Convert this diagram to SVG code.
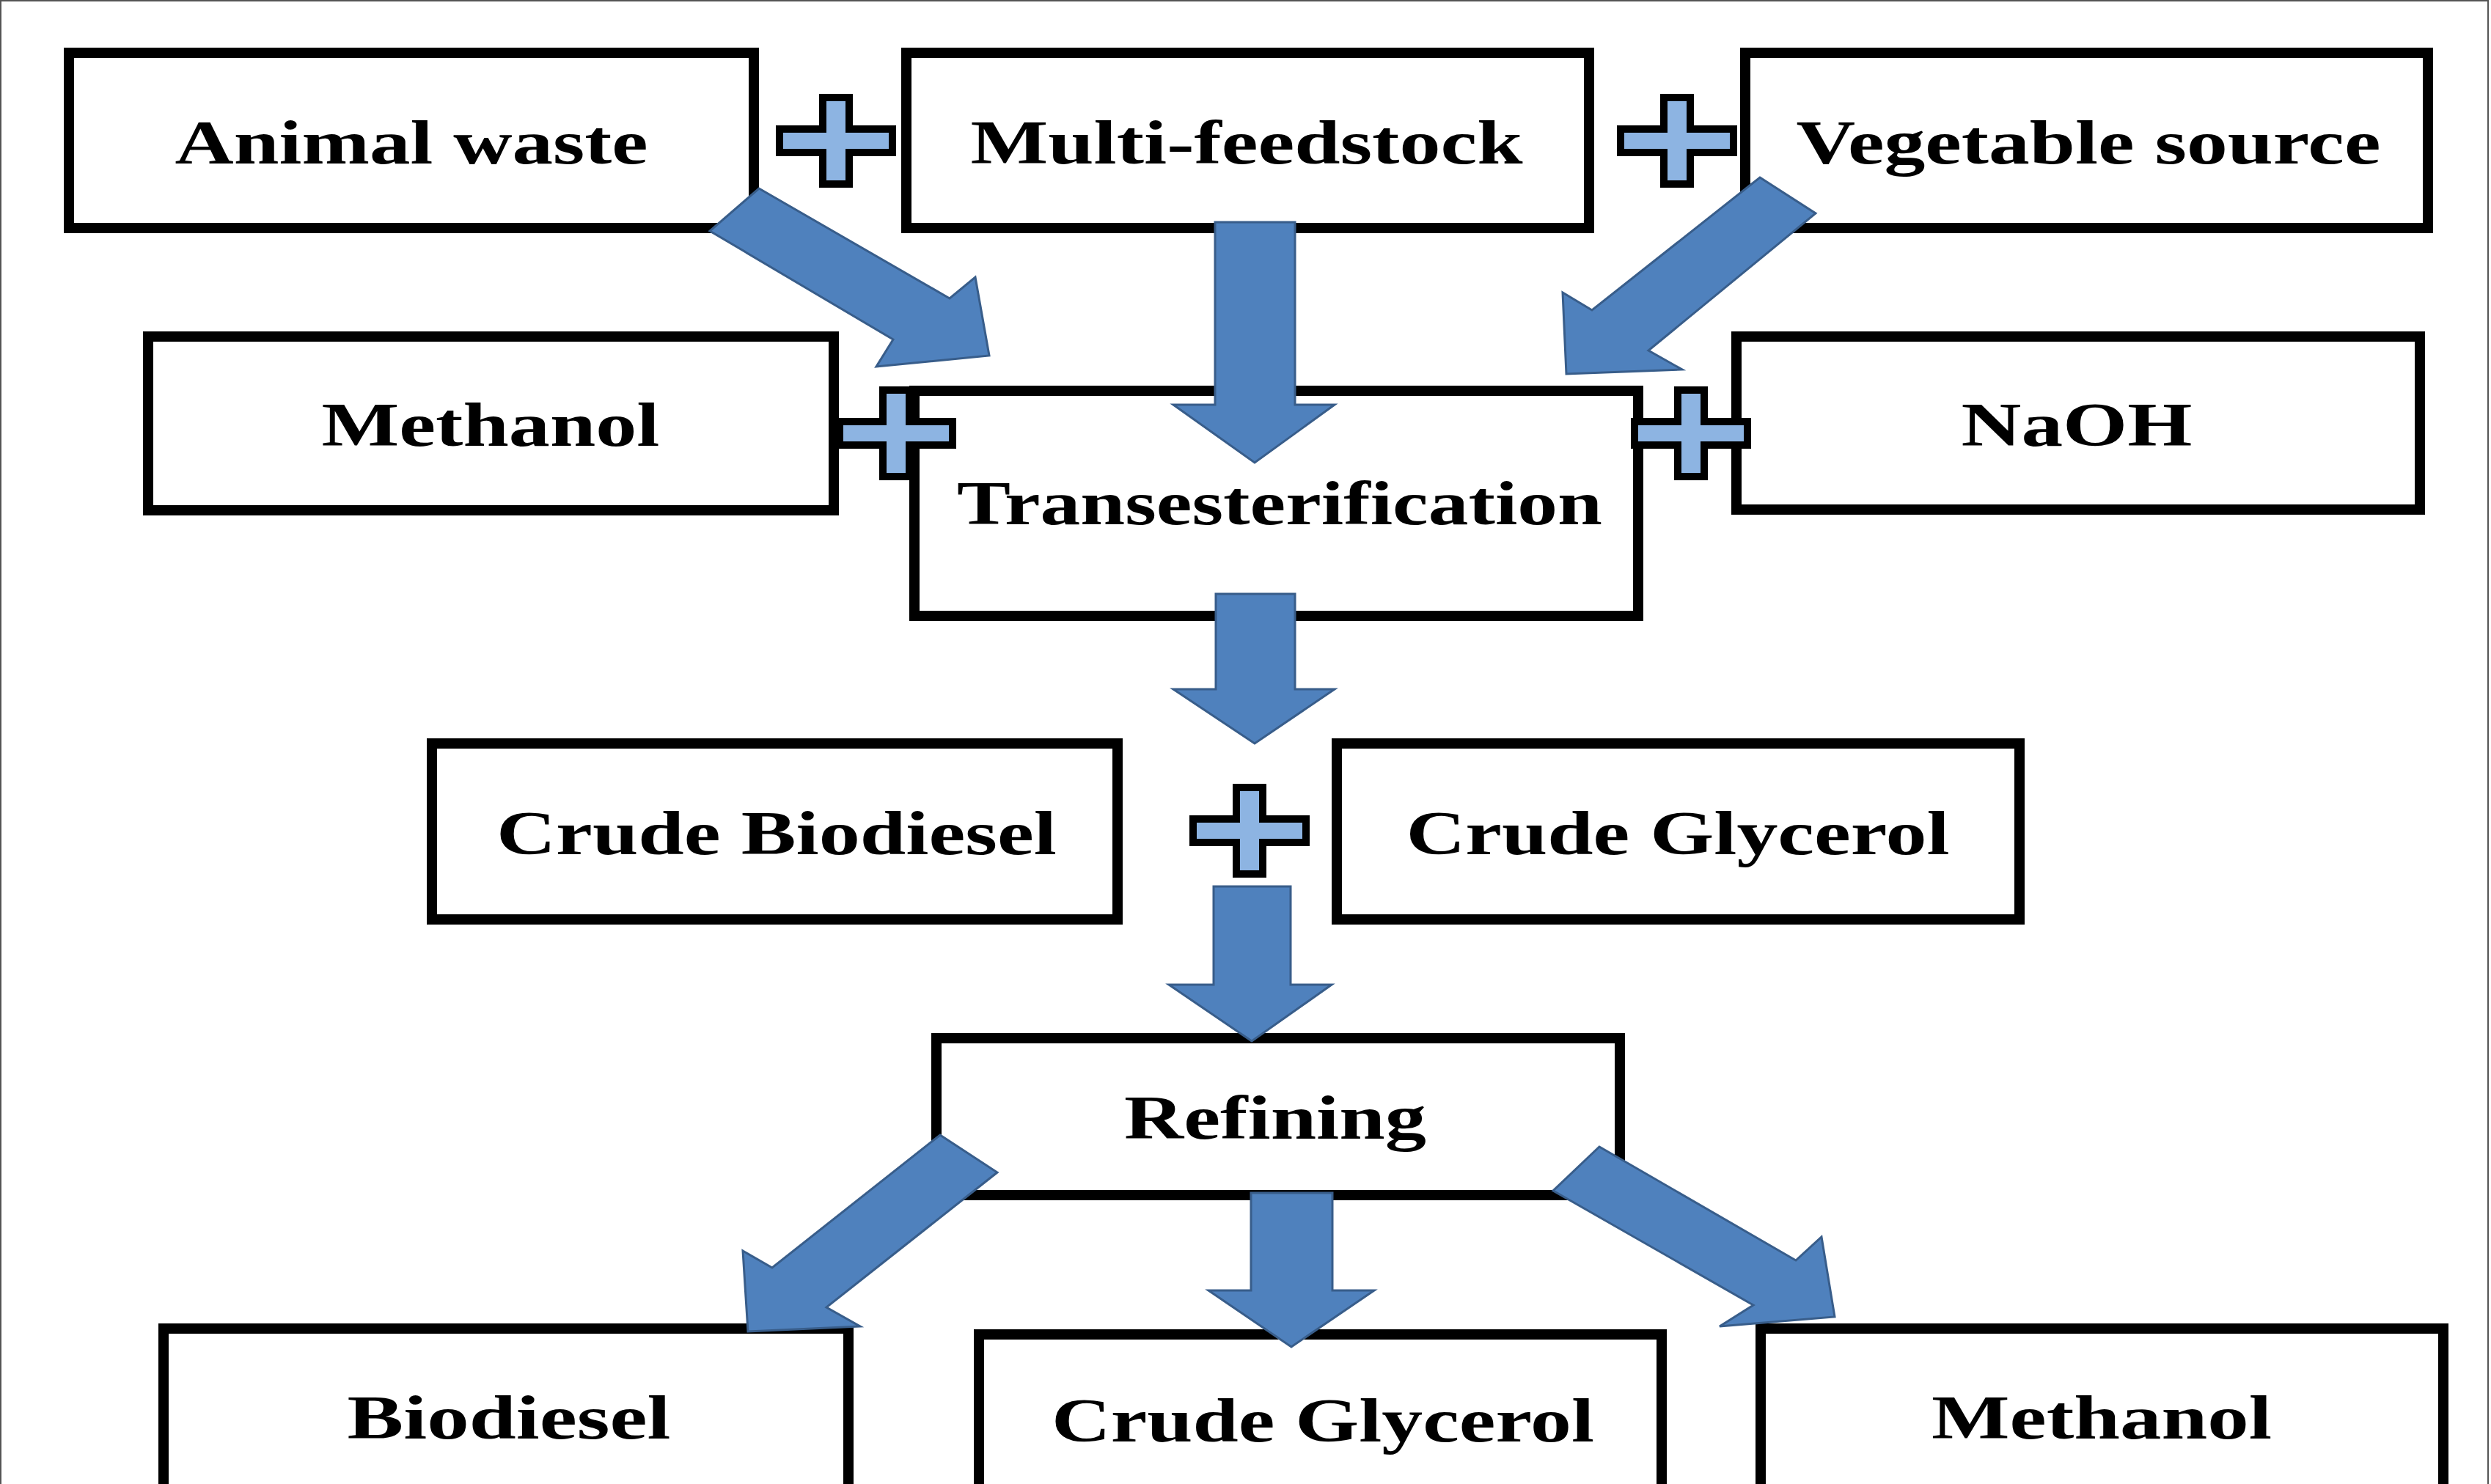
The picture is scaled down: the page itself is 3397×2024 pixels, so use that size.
<svg xmlns="http://www.w3.org/2000/svg" xmlns:xlink="http://www.w3.org/1999/xlink" width="3397" height="2024" viewBox="0 0 3397 2024">
<style>
.box{fill:#ffffff;stroke:#000000;stroke-width:14;stroke-linejoin:miter}
.label{font-family:"Liberation Serif","Times New Roman",serif;font-weight:bold;font-size:84px;text-anchor:middle;fill:#000000}
.arrow{fill:#4F81BD;stroke:#385D8A;stroke-width:3;stroke-linejoin:miter}
.plus{fill:#8DB4E2;stroke:#000000;stroke-width:10;stroke-linejoin:miter}
</style>
<defs>
<path id="plusShape" class="plus" d="M-18,-59 H18 V-16 H77 V16 H18 V59 H-18 V16 H-77 V-16 H-18 Z"/>
</defs>
<rect x="0" y="0" width="3397" height="2024" fill="#ffffff"/>
<rect x="1" y="1" width="3392" height="2040" fill="none" stroke="#555555" stroke-width="2"/>

<g id="node-animal-waste">
<rect class="box" x="94" y="72" width="934" height="239"/>
<text class="label" x="561" y="223" textLength="645" lengthAdjust="spacingAndGlyphs">Animal waste</text>
</g>
<g id="node-multi-feedstock">
<rect class="box" x="1236" y="72" width="931" height="239"/>
<text class="label" x="1700" y="223" textLength="753" lengthAdjust="spacingAndGlyphs">Multi-feedstock</text>
</g>
<g id="node-vegetable-source">
<rect class="box" x="2380" y="72" width="931" height="239"/>
<text class="label" x="2848" y="223" textLength="797" lengthAdjust="spacingAndGlyphs">Vegetable source</text>
</g>
<g id="node-methanol-in">
<rect class="box" x="202" y="459" width="935" height="237"/>
<text class="label" x="669" y="608" textLength="461" lengthAdjust="spacingAndGlyphs">Methanol</text>
</g>
<g id="node-naoh">
<rect class="box" x="2368" y="459" width="932" height="236"/>
<text class="label" x="2832" y="608" textLength="315" lengthAdjust="spacingAndGlyphs">NaOH</text>
</g>
<g id="node-transesterification">
<rect class="box" x="1247" y="533" width="987" height="307"/>
<text class="label" x="1745" y="715" textLength="880" lengthAdjust="spacingAndGlyphs">Transesterification</text>
</g>
<g id="node-crude-biodiesel">
<rect class="box" x="589" y="1014" width="935" height="240"/>
<text class="label" x="1059" y="1165" textLength="764" lengthAdjust="spacingAndGlyphs">Crude Biodiesel</text>
</g>
<g id="node-crude-glycerol">
<rect class="box" x="1823" y="1014" width="931" height="240"/>
<text class="label" x="2288" y="1165" textLength="741" lengthAdjust="spacingAndGlyphs">Crude Glycerol</text>
</g>
<g id="node-refining">
<rect class="box" x="1277" y="1416" width="932" height="214"/>
<text class="label" x="1739" y="1553" textLength="412" lengthAdjust="spacingAndGlyphs">Refining</text>
</g>
<g id="node-biodiesel">
<rect class="box" x="223" y="1812" width="934" height="400"/>
<text class="label" x="694" y="1962" textLength="441" lengthAdjust="spacingAndGlyphs">Biodiesel</text>
</g>
<g id="node-crude-glycerol-out">
<rect class="box" x="1335" y="1820" width="931" height="400"/>
<text class="label" x="1804" y="1966" textLength="740" lengthAdjust="spacingAndGlyphs">Crude Glycerol</text>
</g>
<g id="node-methanol-out">
<rect class="box" x="2401" y="1812" width="931" height="400"/>
<text class="label" x="2866" y="1962" textLength="464" lengthAdjust="spacingAndGlyphs">Methanol</text>
</g>

<g id="plus-signs">
<use id="plus-1" xlink:href="#plusShape" href="#plusShape" x="1140" y="192"/>
<use id="plus-2" xlink:href="#plusShape" href="#plusShape" x="2287" y="192"/>
<use id="plus-3" xlink:href="#plusShape" href="#plusShape" x="1222" y="591"/>
<use id="plus-4" xlink:href="#plusShape" href="#plusShape" x="2306" y="591"/>
<use id="plus-5" xlink:href="#plusShape" href="#plusShape" x="1704" y="1133"/>
</g>

<g id="connectors">
<polygon id="arrow-animal-trans" class="arrow" points="1035,257 1295,407 1330,378 1349,485 1195,500 1218,463 968,315"/>
<polygon id="arrow-multi-trans" class="arrow" points="1657,303 1766,303 1766,552 1820,552 1711,631 1600,552 1657,552"/>
<polygon id="arrow-veg-trans" class="arrow" points="2400,242 2476,291 2248,478 2294,504 2136,510 2131,399 2171,423"/>
<polygon id="arrow-trans-crude" class="arrow" points="1658,810 1766,810 1766,940 1820,940 1711,1014 1600,940 1658,940"/>
<polygon id="arrow-crude-refining" class="arrow" points="1655,1209 1760,1209 1760,1343 1816,1343 1707,1420 1594,1343 1655,1343"/>
<polygon id="arrow-refining-biodiesel" class="arrow" points="1282,1548 1360,1599 1127,1783 1173,1809 1020,1816 1013,1706 1053,1729"/>
<polygon id="arrow-refining-glycerol" class="arrow" points="1706,1627 1817,1627 1817,1760 1874,1760 1761,1837 1648,1760 1706,1760"/>
<polygon id="arrow-refining-methanol" class="arrow" points="2181,1564 2449,1719 2484,1687 2502,1796 2345,1809 2391,1780 2118,1624"/>
</g>
</svg>
